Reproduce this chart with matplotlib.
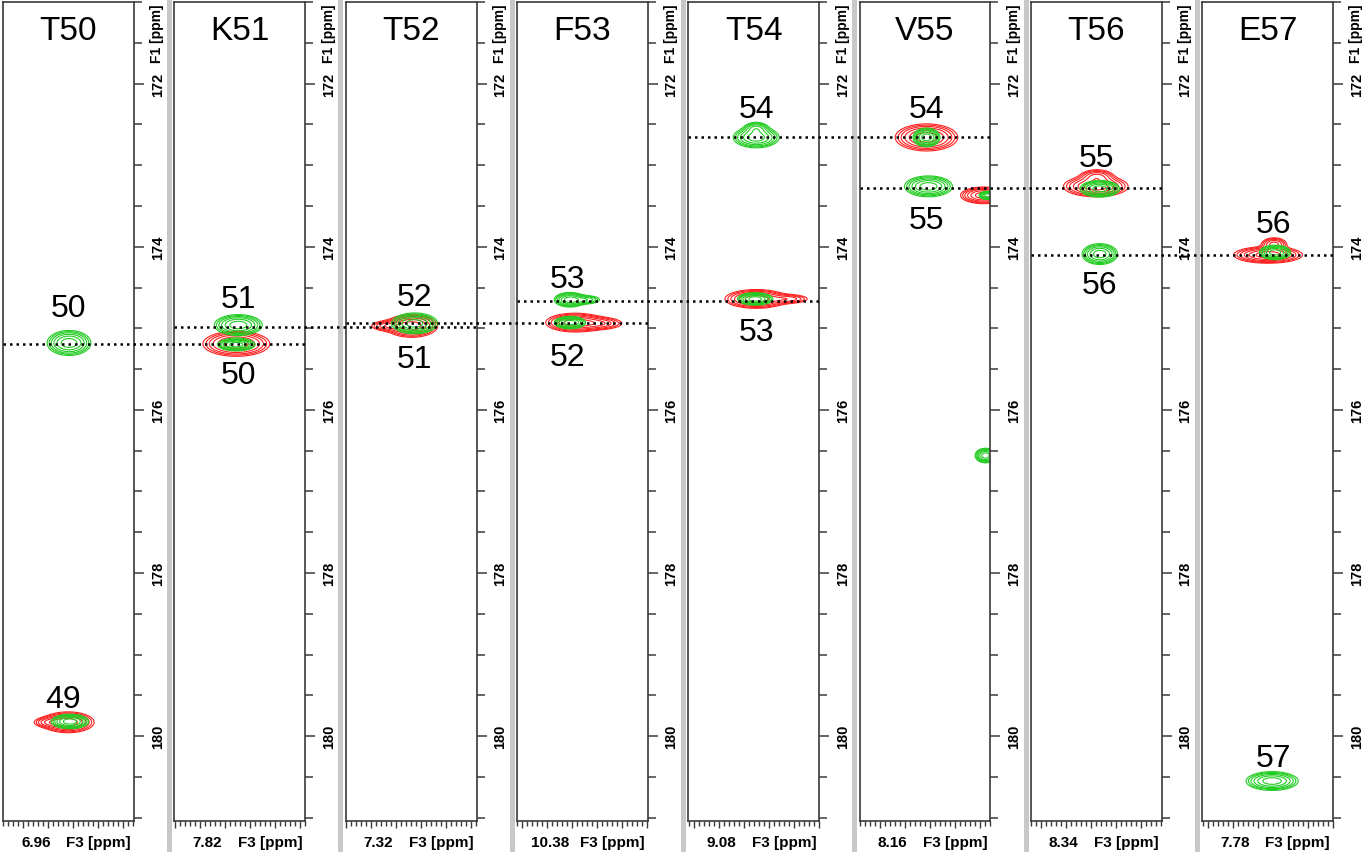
import numpy as np
import matplotlib
matplotlib.use('Agg')
import matplotlib.pyplot as plt
from matplotlib.ticker import MultipleLocator, NullFormatter
import matplotlib.transforms as mtransforms

plt.rcParams['font.family'] = ['Liberation Sans', 'DejaVu Sans']

# ---------------- data ----------------
strip_names = ['T50', 'K51', 'T52', 'F53', 'T54', 'V55', 'T56', 'E57']
strip_h_ppm = [6.96, 7.82, 7.32, 10.38, 9.08, 8.16, 8.34, 7.78]
strip_h_labels = ['6.96', '7.82', '7.32', '10.38', '9.08', '8.16', '8.34', '7.78']
c_ticks = [172, 174, 176, 178, 180]

# green peaks (strip index, 1H ppm, 13C ppm, sigma H, sigma C, amplitude)
green_strip = [0, 0, 1, 1, 2, 3, 3, 3, 4, 4, 4, 5, 5, 5, 5, 6, 6, 7, 7]
green_h = [6.959, 6.957, 7.823, 7.827, 7.313, 10.405, 10.372, 10.405, 9.075, 9.075, 9.077,
           8.157, 8.153, 8.035, 8.039, 8.333, 8.333, 7.765, 7.771]
green_c = [175.18, 179.82, 174.96, 175.20, 174.94, 174.65, 174.65, 174.93, 172.66, 172.55, 174.64,
           172.66, 173.26, 173.37, 176.56, 173.29, 174.09, 174.07, 180.55]
green_sh = [0.0204, 0.0175, 0.0223, 0.0175, 0.0214, 0.0146, 0.0150, 0.0146, 0.0214, 0.0120, 0.0165,
            0.0126, 0.0223, 0.0078, 0.0097, 0.0184, 0.0165, 0.0146, 0.0243]
green_sc = [0.0715, 0.0417, 0.0596, 0.0357, 0.0596, 0.0417, 0.0280, 0.0357, 0.0596, 0.0400, 0.0357,
            0.0536, 0.0596, 0.0238, 0.0417, 0.0476, 0.0596, 0.0417, 0.0536]
green_amp = [1, 1, 1, 1, 1, 1, 0.45, 1, 1, 0.55, 1, 1, 1, 1, 1, 1, 1, 1, 1]

# red peaks
red_strip = [0, 0, 1, 2, 2, 3, 3, 4, 4, 5, 5, 6, 6, 7, 7]
red_h = [6.961, 6.995, 7.827, 7.319, 7.365, 10.395, 10.345, 9.075, 9.010, 8.157, 8.043,
         8.341, 8.339, 7.779, 7.767]
red_c = [179.83, 179.83, 175.19, 174.97, 174.97, 174.93, 174.94, 174.64, 174.64, 172.66, 173.37,
         173.26, 173.14, 174.10, 173.97]
red_sh = [0.0243, 0.0180, 0.0311, 0.0243, 0.0190, 0.0272, 0.0250, 0.0291, 0.0220, 0.0291, 0.0214,
          0.0301, 0.0170, 0.0320, 0.0130]
red_sc = [0.0596, 0.0330, 0.0715, 0.0655, 0.0330, 0.0536, 0.0400, 0.0536, 0.0300, 0.0774, 0.0476,
          0.0596, 0.0450, 0.0476, 0.0420]
red_amp = [1, 0.45, 1, 1, 0.45, 1, 0.45, 1, 0.4, 1, 1, 1, 0.55, 1, 0.6]

# residue labels (strip, text, 1H ppm, 13C ppm)
label_strip = [0, 0, 1, 1, 2, 2, 3, 3, 4, 4, 5, 5, 6, 6, 7, 7]
label_text = ['50', '49', '51', '50', '52', '51', '53', '52', '54', '53', '54', '55', '55', '56', '56', '57']
label_h = [6.959, 6.970, 7.823, 7.823, 7.313, 7.313, 10.409, 10.409, 9.075, 9.075, 8.157, 8.157,
           8.339, 8.333, 7.769, 7.769]
label_c = [174.72, 179.51, 174.61, 175.53, 174.58, 175.34, 174.36, 175.31, 172.27, 175.01, 172.28,
           173.63, 172.88, 174.43, 173.68, 180.23]

# connecting dotted lines (13C ppm, first strip index)
link_c = [175.19, 174.99, 174.94, 174.66, 172.66, 173.28, 174.10]
link_strip = [0, 1, 2, 3, 4, 5, 6]

# ---------------- figure ----------------
W, H = 1368, 853
fig = plt.figure(figsize=(W / 100, H / 100), dpi=100)
fig.patch.set_facecolor('white')

half_w = 0.131
c_lim = (181.04, 171.0)
levels = [0.1, 0.15, 0.22, 0.33, 0.5, 0.75]
green_col = '#22cc22'
red_col = '#ff2020'
frame_col = '#3a3a3a'

axes = []
for i, name in enumerate(strip_names):
    left = (3 + i * 171.3) / W
    ax = fig.add_axes([left, 31 / H, 131 / W, 819 / H])
    axes.append(ax)
    hc = strip_h_ppm[i]
    ax.set_xlim(hc + half_w, hc - half_w)
    ax.set_ylim(*c_lim)

    xs = np.linspace(hc - half_w - 0.01, hc + half_w + 0.01, 400)
    ys = np.linspace(170.8, 181.2, 2400)
    X, Y = np.meshgrid(xs, ys)
    for st, hh, cc, sh, sc, am, col in [
        (red_strip, red_h, red_c, red_sh, red_sc, red_amp, red_col),
        (green_strip, green_h, green_c, green_sh, green_sc, green_amp, green_col),
    ]:
        Z = np.zeros_like(X)
        n = 0
        for k in range(len(st)):
            if st[k] != i:
                continue
            Z += am[k] * np.exp(-0.5 * (((X - hh[k]) / sh[k]) ** 2 + ((Y - cc[k]) / sc[k]) ** 2))
            n += 1
        if n:
            ax.contour(X, Y, Z, levels=levels, colors=col, linewidths=0.8)

    # axes styling
    for sp in ax.spines.values():
        sp.set_color(frame_col)
        sp.set_linewidth(1.2)
    ax.yaxis.tick_right()
    ax.yaxis.set_minor_locator(MultipleLocator(0.5))
    ax.set_yticks(c_ticks)
    ax.tick_params(axis='y', which='major', direction='out', length=7, width=1.1,
                   color=frame_col, pad=5, labelsize=10.5, labelrotation=90)
    ax.tick_params(axis='y', which='minor', direction='out', length=6, width=1.1, color=frame_col)
    for lbl in ax.get_yticklabels():
        lbl.set_fontweight('bold')
        lbl.set_va('center')
    ax.xaxis.set_major_locator(MultipleLocator(0.05))
    ax.xaxis.set_minor_locator(MultipleLocator(0.01))
    ax.xaxis.set_major_formatter(NullFormatter())
    ax.tick_params(axis='x', which='major', direction='out', length=5, width=1.0, color=frame_col)
    ax.tick_params(axis='x', which='minor', direction='out', length=3.5, width=1.0, color=frame_col)

    trans_y = mtransforms.blended_transform_factory(ax.transAxes, ax.transData)
    ax.text(1.125, 171.38, 'F1 [ppm]', rotation=90, ha='left', va='center',
            fontsize=10, fontweight='bold', transform=trans_y)
    ax.text(0.5, 0.965, name, ha='center', va='center', fontsize=24, transform=ax.transAxes)
    ax.text(0.25, -0.026, strip_h_labels[i], ha='center', va='center', fontsize=11,
            fontweight='bold', transform=ax.transAxes)
    ax.text(0.73, -0.026, 'F3 [ppm]', ha='center', va='center', fontsize=11,
            fontweight='bold', transform=ax.transAxes)

# residue labels
for k in range(len(label_text)):
    ax = axes[label_strip[k]]
    tr = mtransforms.offset_copy(ax.transData, fig=fig, x=0, y=-3, units='dots')
    ax.text(label_h[k], label_c[k], label_text[k], ha='center', va='center', fontsize=23,
            transform=tr)

# gray separators between strips
for i in range(len(axes) - 1):
    x = (169 + i * 171.3) / W
    fig.add_artist(plt.Line2D([x, x], [0, 1], transform=fig.transFigure,
                              color='#c8c8c8', linewidth=3.6, zorder=0))

# dotted connecting lines
for cval, s in zip(link_c, link_strip):
    a0 = axes[s]
    a1 = axes[s + 1]
    x0 = a0.get_position().x0
    x1 = a1.get_position().x1
    tr = mtransforms.blended_transform_factory(fig.transFigure, a0.transData)
    fig.add_artist(plt.Line2D([x0, x1], [cval, cval], transform=tr, color='black',
                              linewidth=1.8, linestyle=(0, (1, 1.6)), zorder=10))

fig.savefig('out.png', dpi=100, facecolor='white')
